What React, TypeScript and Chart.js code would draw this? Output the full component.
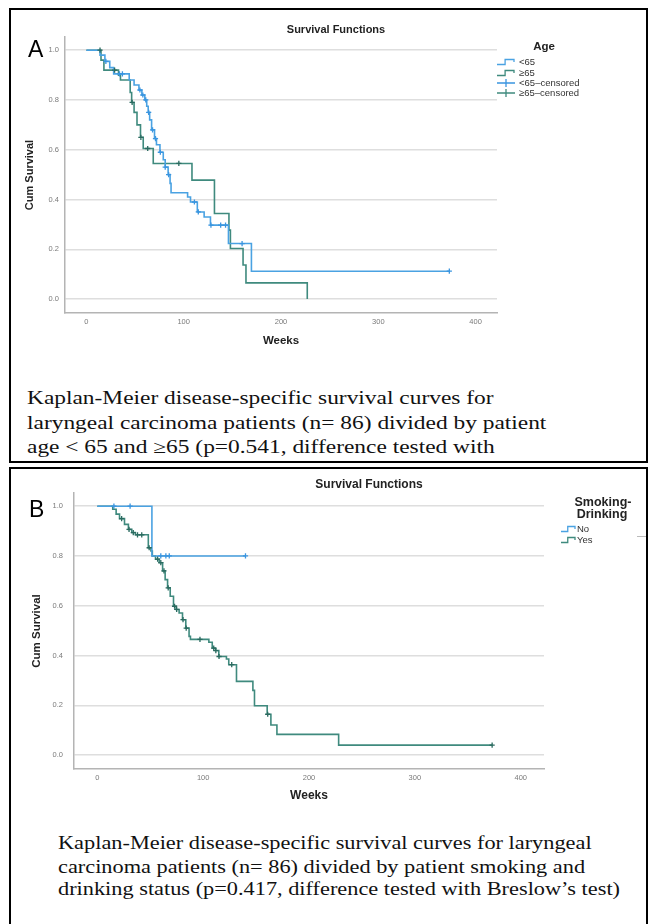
import React, { useEffect, useRef } from "react";
import { Chart, registerables } from "chart.js";

Chart.register(...registerables);

const SANS = "'Liberation Sans', Arial, sans-serif";
const SERIF = "'Liberation Serif', 'Times New Roman', serif";

const xTickValues = [0, 100, 200, 300, 400];
const yTickValues = [0, 0.2, 0.4, 0.6, 0.8, 1.0];

// Panel A – Age
const ageUnder65Weeks = [0, 14, 19, 24, 28, 44, 49, 54, 57, 60, 62, 63.5, 65, 67, 70, 72, 75.6, 79, 81, 84, 86, 87, 104, 107, 114, 121, 127.5, 146, 169.6, 373];
const ageUnder65Surv = [1.0, 0.98, 0.955, 0.93, 0.905, 0.88, 0.86, 0.84, 0.82, 0.8, 0.775, 0.75, 0.72, 0.68, 0.645, 0.62, 0.59, 0.56, 0.53, 0.5, 0.465, 0.427, 0.41, 0.39, 0.35, 0.33, 0.297, 0.223, 0.112, 0.112];
const ageUnder65Censored = [20, 34, 37, 55, 58, 61, 64, 68, 71, 76, 81, 84.5, 111, 115, 128, 138, 143, 160, 373];

const ageOver65Weeks = [0, 15, 18, 33, 35, 45, 46.5, 49, 52, 55.6, 58.4, 68.7, 108.5, 131.6, 146.5, 148, 161, 164, 227];
const ageOver65Surv = [1.0, 0.96, 0.92, 0.9, 0.88, 0.83, 0.79, 0.75, 0.7, 0.65, 0.605, 0.545, 0.478, 0.344, 0.277, 0.203, 0.137, 0.065, 0.0];
const ageOver65Censored = [14, 29, 47, 56, 63, 95];

// Panel B – Smoking-Drinking
const smokeNoWeeks = [0, 51.6, 140];
const smokeNoSurv = [1.0, 0.8, 0.8];
const smokeNoCensored = [15.7, 31, 60, 64.8, 68, 140];

const smokeYesWeeks = [0, 14.6, 17.8, 21, 25.7, 29.4, 32.6, 36, 48.2, 50.7, 52, 55, 58.5, 61.7, 64.1, 66.4, 68.9, 72, 74.5, 77.3, 80.5, 83.6, 86.7, 88, 105.4, 108.6, 111.7, 114.8, 122, 124.2, 131.5, 147, 148.5, 160.5, 164, 169.7, 228, 373];
const smokeYesSurv = [1.0, 0.988, 0.968, 0.95, 0.927, 0.907, 0.894, 0.885, 0.833, 0.82, 0.8, 0.787, 0.773, 0.74, 0.705, 0.672, 0.638, 0.598, 0.585, 0.571, 0.544, 0.51, 0.477, 0.465, 0.453, 0.43, 0.42, 0.396, 0.386, 0.363, 0.296, 0.26, 0.198, 0.164, 0.121, 0.083, 0.04, 0.04];
const smokeYesCensored = [23, 30, 34, 38, 42, 49, 57, 60, 63, 67, 73, 75, 81, 84, 97, 110, 112, 115, 127, 161, 373];

const BLUE = "#4aa2e2";
const BLUE_MARK = "#3a95e0";
const GREEN = "#3f8a7e";
const GREEN_MARK = "#2a6a5f";
const AXIS = "#b4b4b4";

type Series = { label: string; weeks: number[]; surv: number[]; censored: number[]; color: string; mark: string };
type Layout = {
  top: number;
  height: number;
  padding: { left: number; right: number; top: number; bottom: number };
  yWidth: number;
  xHeight: number;
  yTickPad: number;
  yTitlePad: number;
  tickSize: number;
  titleSize: number;
};

function survivalAt(weeks: number[], surv: number[], t: number) {
  let s = surv[0];
  for (let i = 0; i < weeks.length; i++) if (weeks[i] <= t) s = surv[i];
  return s;
}

function KMChart({ series, layout }: { series: Series[]; layout: Layout }) {
  const ref = useRef<HTMLCanvasElement | null>(null);
  useEffect(() => {
    if (!ref.current) return;
    const datasets: any[] = [];
    series.forEach((s) => {
      datasets.push({
        label: s.label,
        data: s.weeks.map((w, i) => ({ x: w, y: s.surv[i] })),
        borderColor: s.color,
        borderWidth: 1.6,
        pointRadius: 0,
        stepped: true,
        fill: false,
        order: 2,
      });
      datasets.push({
        label: s.label + "-censored",
        data: s.censored.map((w) => ({ x: w, y: survivalAt(s.weeks, s.surv, w) })),
        showLine: false,
        pointStyle: "cross",
        pointRadius: 2.6,
        pointBorderWidth: 1.3,
        pointBorderColor: s.mark,
        pointBackgroundColor: s.mark,
        borderColor: s.mark,
        order: 1,
      });
    });
    const chart = new Chart(ref.current, {
      type: "line",
      data: { datasets },
      options: {
        responsive: false,
        maintainAspectRatio: false,
        animation: false,
        events: [],
        layout: { padding: layout.padding },
        plugins: { legend: { display: false }, tooltip: { enabled: false }, title: { display: false } },
        scales: {
          x: {
            type: "linear",
            min: -22,
            max: 422,
            afterBuildTicks: (sc: any) => {
              sc.ticks = xTickValues.map((v) => ({ value: v }));
            },
            afterFit: (sc: any) => {
              sc.height = layout.xHeight;
            },
            grid: { display: false, drawTicks: false },
            border: { display: true, color: AXIS, width: 1.5 },
            ticks: { padding: 4, color: "#7a7a7a", font: { family: SANS, size: layout.tickSize }, callback: (v: any) => String(v) },
            title: {
              display: true,
              text: "Weeks",
              color: "#222",
              font: { family: SANS, size: layout.titleSize, weight: "bold" },
              padding: { top: 0, bottom: 2 },
            },
          },
          y: {
            type: "linear",
            min: -0.056,
            max: 1.053,
            afterBuildTicks: (sc: any) => {
              sc.ticks = yTickValues.map((v) => ({ value: v }));
            },
            afterFit: (sc: any) => {
              sc.width = layout.yWidth;
            },
            grid: { color: "#dedede", lineWidth: 1.5, drawTicks: false },
            border: { display: true, color: AXIS, width: 1.5 },
            ticks: {
              padding: layout.yTickPad,
              color: "#7a7a7a",
              font: { family: SANS, size: layout.tickSize },
              callback: (v: any) => Number(v).toFixed(1),
            },
            title: {
              display: true,
              text: "Cum Survival",
              color: "#222",
              font: { family: SANS, size: layout.titleSize - 0.5, weight: "bold" },
              padding: { top: layout.yTitlePad, bottom: 0 },
            },
          },
        },
      } as any,
    });
    return () => chart.destroy();
  }, []);
  return (
    <canvas
      ref={ref}
      width={652}
      height={layout.height}
      style={{ position: "absolute", left: 0, top: layout.top, width: 652, height: layout.height }}
    />
  );
}

function Text({ x, y, size, children, bold, anchor = "middle", color = "#222", family = SANS }: any) {
  const tx = anchor === "middle" ? "-50%" : anchor === "end" ? "-100%" : "0";
  return (
    <div
      style={{
        position: "absolute",
        left: x,
        top: y,
        transform: `translate(${tx}, -50%)`,
        fontFamily: family,
        fontSize: size,
        fontWeight: bold ? "bold" : "normal",
        lineHeight: 1,
        whiteSpace: "nowrap",
        color,
      }}
    >
      {children}
    </div>
  );
}

function LineIcon({ x, y, color, w = 18 }: any) {
  return (
    <svg style={{ position: "absolute", left: x, top: y - 5 }} width={w} height={10}>
      <path d={`M0,7.5 H${w * 0.45} V2.5 H${w - 1} V5`} stroke={color} strokeWidth={1.3} fill="none" />
    </svg>
  );
}

function CensorIcon({ x, y, color }: any) {
  return (
    <svg style={{ position: "absolute", left: x, top: y - 5 }} width={18} height={10}>
      <path d="M0,5 H18 M9,1 V9" stroke={color} strokeWidth={1.3} fill="none" />
    </svg>
  );
}

function Caption({ x, ys, lines, scale }: any) {
  return (
    <>
      {lines.map((l: string, i: number) => (
        <div
          key={i}
          style={{
            position: "absolute",
            left: x,
            top: ys[i],
            transform: `translateY(-50%) scaleX(${scale})`,
            transformOrigin: "left center",
            fontFamily: SERIF,
            fontSize: 18,
            lineHeight: 1,
            whiteSpace: "nowrap",
            color: "#111",
          }}
        >
          {l}
        </div>
      ))}
    </>
  );
}

const captionA = [
  "Kaplan-Meier disease-specific survival curves for",
  "laryngeal carcinoma patients (n= 86) divided by patient",
  "age < 65 and \u226565 (p=0.541, difference tested with",
];
const captionB = [
  "Kaplan-Meier disease-specific survival curves for laryngeal",
  "carcinoma patients (n= 86) divided by patient smoking and",
  "drinking status (p=0.417, difference tested with Breslow\u2019s test)",
];

const seriesA: Series[] = [
  { label: "<65", weeks: ageUnder65Weeks, surv: ageUnder65Surv, censored: ageUnder65Censored, color: BLUE, mark: BLUE_MARK },
  { label: "\u226565", weeks: ageOver65Weeks, surv: ageOver65Surv, censored: ageOver65Censored, color: GREEN, mark: GREEN_MARK },
];
const seriesB: Series[] = [
  { label: "No", weeks: smokeNoWeeks, surv: smokeNoSurv, censored: smokeNoCensored, color: BLUE, mark: BLUE_MARK },
  { label: "Yes", weeks: smokeYesWeeks, surv: smokeYesSurv, censored: smokeYesCensored, color: GREEN, mark: GREEN_MARK },
];

const layoutA: Layout = {
  top: 0,
  height: 360,
  padding: { left: 20, right: 155, top: 37, bottom: 10 },
  yWidth: 45,
  xHeight: 37,
  yTickPad: 6,
  yTitlePad: 3,
  tickSize: 7.5,
  titleSize: 11.5,
};
const layoutB: Layout = {
  top: 466,
  height: 360,
  padding: { left: 20, right: 108, top: 27, bottom: 21 },
  yWidth: 54,
  xHeight: 36,
  yTickPad: 11,
  yTitlePad: 10,
  tickSize: 7.5,
  titleSize: 12,
};

export default function App() {
  return (
    <div style={{ position: "absolute", left: 0, top: 0, width: 652, height: 924, background: "#fff", overflow: "hidden" }}>
      <div style={{ position: "absolute", left: 9, top: 8, width: 639, height: 455, border: "2px solid #000", boxSizing: "border-box" }} />
      <div style={{ position: "absolute", left: 9, top: 467, width: 639, height: 462, border: "2px solid #000", boxSizing: "border-box" }} />

      <KMChart series={seriesA} layout={layoutA} />
      <KMChart series={seriesB} layout={layoutB} />

      {/* Panel A texts */}
      <div style={{ position: "absolute", left: 28, top: 37, fontFamily: SANS, fontSize: 23, lineHeight: "24px", color: "#000" }}>A</div>
      <Text x={336} y={28.5} size={11} bold>Survival Functions</Text>
      <Text x={544} y={47} size={11.5} bold>Age</Text>
      <LineIcon x={497} y={62.3} color={BLUE} />
      <Text x={519} y={62.3} size={9.5} anchor="start" color="#333">&lt;65</Text>
      <LineIcon x={497} y={72.5} color={GREEN} />
      <Text x={519} y={72.5} size={9.5} anchor="start" color="#333">{"\u226565"}</Text>
      <CensorIcon x={497} y={82.7} color={BLUE_MARK} />
      <Text x={519} y={82.7} size={9.5} anchor="start" color="#333">&lt;65{"\u2013"}censored</Text>
      <CensorIcon x={497} y={92.8} color={GREEN} />
      <Text x={519} y={92.8} size={9.5} anchor="start" color="#333">{"\u226565\u2013censored"}</Text>
      <Caption x={27} ys={[398, 422.5, 446.5]} lines={captionA} scale={1.3} />

      {/* Panel B texts */}
      <div style={{ position: "absolute", left: 29, top: 497, fontFamily: SANS, fontSize: 23, lineHeight: "24px", color: "#000" }}>B</div>
      <Text x={369} y={484} size={12} bold>Survival Functions</Text>
      <Text x={603} y={501.5} size={12.5} bold>Smoking-</Text>
      <Text x={602} y={513.5} size={12.5} bold>Drinking</Text>
      <LineIcon x={561} y={529} color={BLUE} w={15} />
      <Text x={577} y={529} size={9.5} anchor="start" color="#333">No</Text>
      <LineIcon x={561} y={540} color={GREEN} w={15} />
      <Text x={577} y={540} size={9.5} anchor="start" color="#333">Yes</Text>
      <div style={{ position: "absolute", left: 637, top: 536, width: 9, height: 1, background: "#bbb" }} />
      <Caption x={58} ys={[843, 866.5, 888.5]} lines={captionB} scale={1.24} />
    </div>
  );
}
